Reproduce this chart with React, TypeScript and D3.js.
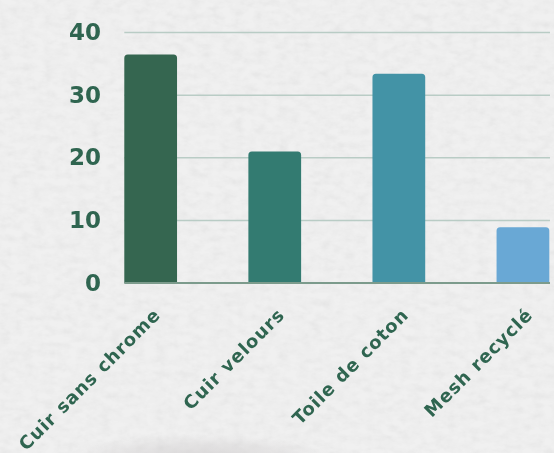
import React from "react";
import * as d3 from "d3";

const categories = ["Cuir sans chrome", "Cuir velours", "Toile de coton", "Mesh recyclé"];
const values = [36.5, 21, 33.4, 8.9];
const barColors = ["#356650", "#337b71", "#4393a6", "#69a8d5"];
const yTicks = [0, 10, 20, 30, 40];

const W = 554;
const H = 453;

export default function App() {
  const x = d3
    .scaleBand<string>()
    .domain(categories)
    .range([124.3, 549.3])
    .paddingInner(0.575)
    .paddingOuter(0);
  const y = d3.scaleLinear().domain([0, 40]).range([283, 32.5]);
  const bw = x.bandwidth();
  const r = 3.5;
  const textColor = "#2f6550";
  const font = "'DejaVu Sans', sans-serif";

  const barPath = (x0: number, y0: number, w: number, h: number) => {
    const p = d3.path();
    p.moveTo(x0, y0 + h);
    p.lineTo(x0, y0 + r);
    p.arcTo(x0, y0, x0 + r, y0, r);
    p.lineTo(x0 + w - r, y0);
    p.arcTo(x0 + w, y0, x0 + w, y0 + r, r);
    p.lineTo(x0 + w, y0 + h);
    p.closePath();
    return p.toString();
  };

  return (
    <div style={{ position: "fixed", left: 0, top: 0, width: W, height: H }}>
      <svg width={W} height={H} viewBox={`0 0 ${W} ${H}`} style={{ display: "block" }}>
        <defs>
          <filter id="paper" x="0" y="0" width="100%" height="100%">
            <feTurbulence type="fractalNoise" baseFrequency="0.09 0.14" numOctaves={4} seed={3} result="noise" />
            <feColorMatrix
              in="noise"
              type="matrix"
              values="0 0 0 0 0.55  0 0 0 0 0.55  0 0 0 0 0.55  0.22 0.22 0.22 0 -0.27"
              result="tex"
            />
            <feComposite in="tex" in2="SourceGraphic" operator="over" />
          </filter>
          <radialGradient id="smudge" cx="0.5" cy="0.5" r="0.5">
            <stop offset="0" stopColor="#cdcacb" stopOpacity={0.7} />
            <stop offset="0.6" stopColor="#cdcacb" stopOpacity={0.35} />
            <stop offset="1" stopColor="#cdcacb" stopOpacity={0} />
          </radialGradient>
        </defs>
        <rect x={0} y={0} width={W} height={H} fill="#f0f0f0" filter="url(#paper)" />
        <ellipse cx={200} cy={462} rx={140} ry={28} fill="url(#smudge)" />

        {yTicks
          .filter((t) => t > 0)
          .map((t) => (
            <line key={t} x1={124.3} x2={550} y1={y(t)} y2={y(t)} stroke="#b9ccc5" strokeWidth={1.5} />
          ))}

        {categories.map((c, i) => {
          const x0 = x(c)!;
          const y0 = y(values[i]);
          return <path key={c} d={barPath(x0, y0, bw, y(0) - y0)} fill={barColors[i]} />;
        })}

        <line x1={124.3} x2={550} y1={y(0)} y2={y(0)} stroke="#7c9b8c" strokeWidth={1.8} />

        {yTicks.map((t) => (
          <text
            key={t}
            x={101}
            y={y(t) + 7.5}
            textAnchor="end"
            fill={textColor}
            fontFamily={font}
            fontWeight={700}
            fontSize={23}
          >
            {t}
          </text>
        ))}

        {categories.map((c) => {
          const cx = x(c)! + bw / 2 + 11;
          const cy = 316;
          return (
            <text
              key={c}
              x={cx}
              y={cy}
              transform={`rotate(-45, ${cx}, ${cy})`}
              textAnchor="end"
              fill={textColor}
              fontFamily={font}
              fontWeight={700}
              fontSize={18}
              letterSpacing={1}
            >
              {c}
            </text>
          );
        })}
      </svg>
    </div>
  );
}
